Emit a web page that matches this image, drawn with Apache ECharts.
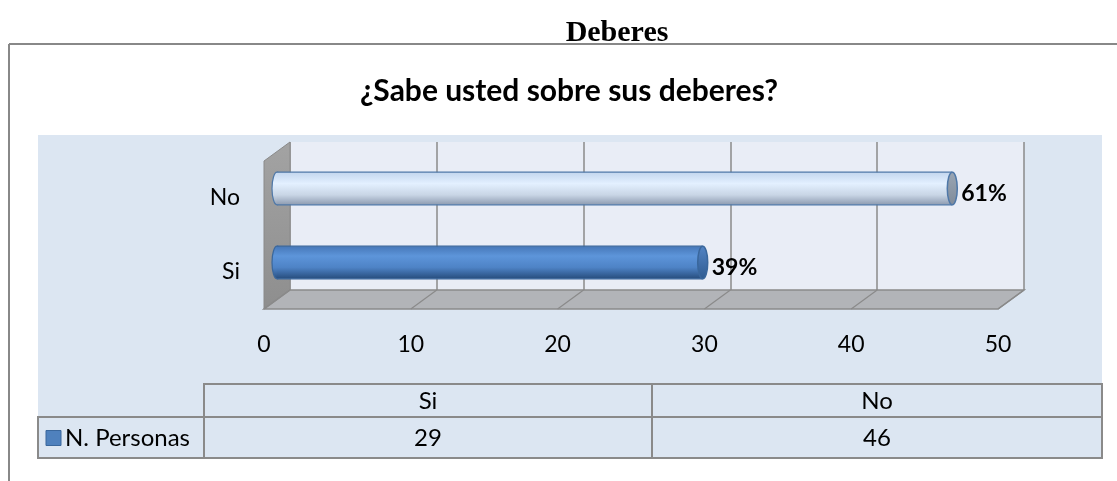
<!DOCTYPE html>
<html>
<head>
<meta charset="utf-8">
<script src="https://cdn.jsdelivr.net/npm/echarts@6/dist/echarts.min.js"></script>
<style>
html, body { margin: 0; padding: 0; background: #fff; }
#main { width: 1117px; height: 481px; }
</style>
</head>
<body>
<div id="main"></div>
<script>
// data
var categories = ['Si', 'No'];
var personas = [29, 46];
var seriesName = 'N. Personas';
var xMin = 0, xMax = 50, xStep = 10;
var pageTitle = 'Deberes';
var chartTitle = '¿Sabe usted sobre sus deberes?';

// layout (back wall of the 3d box + depth offset)
var wall = { left: 290, top: 142, width: 734, height: 148 };
var depth = { dx: -26, dy: 19 };
var font = 'Lato';
var edgeGray = '#8a8a8a';

var total = personas.reduce(function (a, b) { return a + b; }, 0);

var cylStyles = {
    'Si': {
        body: [[0, '#4677b8'], [0.3, '#5d95da'], [0.65, '#4e83c6'], [1, '#274d7d']],
        cap: [[0, '#5384c4'], [1, '#2f5b91']],
        edge: '#3a679c'
    },
    'No': {
        body: [[0, '#c3d6ee'], [0.35, '#e3f0ff'], [0.7, '#c8d5e5'], [1, '#8d9bb0']],
        cap: [[0, '#9aa6b4'], [1, '#7f8b9a']],
        edge: '#4f78a8'
    }
};

function grad(stops) {
    return {
        type: 'linear', x: 0, y: 0, x2: 0, y2: 1,
        colorStops: stops.map(function (s) { return { offset: s[0], color: s[1] }; })
    };
}

function renderBox(params, api) {
    var bl = api.coord([xMin, 0]);
    var br = api.coord([xMax, 0]);
    var tl = api.coord([xMin, 1]);
    var children = [];
    // left wall
    children.push({
        type: 'polygon',
        shape: { points: [[tl[0], tl[1]], [bl[0], bl[1]], [bl[0] + depth.dx, bl[1] + depth.dy], [tl[0] + depth.dx, tl[1] + depth.dy]] },
        style: { fill: grad([[0, '#a3a3a3'], [1, '#8e8e8e']]), stroke: edgeGray, lineWidth: 1 }
    });
    // floor
    children.push({
        type: 'polygon',
        shape: { points: [[bl[0], bl[1]], [br[0], br[1]], [br[0] + depth.dx, br[1] + depth.dy], [bl[0] + depth.dx, bl[1] + depth.dy]] },
        style: { fill: '#b2b4b8', stroke: edgeGray, lineWidth: 1.5 }
    });
    for (var t = xMin; t <= xMax; t += xStep) {
        var p = api.coord([t, 0]);
        children.push({
            type: 'line',
            shape: { x1: p[0], y1: p[1], x2: p[0] + depth.dx, y2: p[1] + depth.dy },
            style: { stroke: edgeGray, lineWidth: 1.2 }
        });
    }
    return { type: 'group', children: children };
}

function renderCylinder(params, api) {
    var v = api.value(0);
    var cat = api.value(1);
    var name = categories[params.dataIndex];
    var st = cylStyles[name];
    var start = api.coord([0, cat]);
    var end = api.coord([v, cat]);
    var h = api.size([0, 1])[1] * 0.44;
    var ry = h / 2, rx = 5;
    var cy = start[1];
    var pct = Math.round(v / total * 100) + '%';
    return {
        type: 'group',
        children: [
            { type: 'ellipse', shape: { cx: start[0], cy: cy, rx: rx, ry: ry }, style: { fill: grad(st.body), stroke: st.edge, lineWidth: 1.2 } },
            { type: 'rect', shape: { x: start[0], y: cy - ry, width: end[0] - start[0], height: h }, style: { fill: grad(st.body) } },
            { type: 'line', shape: { x1: start[0], y1: cy - ry, x2: end[0], y2: cy - ry }, style: { stroke: st.edge, lineWidth: 1.2 } },
            { type: 'line', shape: { x1: start[0], y1: cy + ry, x2: end[0], y2: cy + ry }, style: { stroke: st.edge, lineWidth: 1.2 } },
            { type: 'ellipse', shape: { cx: end[0], cy: cy, rx: rx, ry: ry }, style: { fill: grad(st.cap), stroke: st.edge, lineWidth: 1.5 } },
            { type: 'text', style: { text: pct, x: end[0] + rx + 4, y: cy + 5, verticalAlign: 'middle', font: 'bold 23px ' + font, fill: '#000' } }
        ]
    };
}

// data table under the chart
var tbl = { x0: 38, c1: 204, c2: 652, x3: 1102, y0: 384, y1: 417, y2: 458 };
var cols = [tbl.c1, tbl.c2, tbl.x3];
var tableGraphics = [];
function cell(x, y, w, h) {
    tableGraphics.push({
        type: 'rect', shape: { x: x, y: y, width: w, height: h },
        style: { fill: 'transparent', stroke: edgeGray, lineWidth: 2 }, z: 5
    });
}
function cellText(txt, cx, cy) {
    tableGraphics.push({
        type: 'text', x: cx, y: cy, z: 6,
        style: { text: txt, font: '24px ' + font, fill: '#000', align: 'center', verticalAlign: 'middle' }
    });
}
for (var i = 0; i < categories.length; i++) {
    cell(cols[i], tbl.y0, cols[i + 1] - cols[i], tbl.y1 - tbl.y0);
    cell(cols[i], tbl.y1, cols[i + 1] - cols[i], tbl.y2 - tbl.y1);
    cellText(categories[i], (cols[i] + cols[i + 1]) / 2, (tbl.y0 + tbl.y1) / 2 + 1);
    cellText(String(personas[i]), (cols[i] + cols[i + 1]) / 2, (tbl.y1 + tbl.y2) / 2 + 1);
}
cell(tbl.x0, tbl.y1, tbl.c1 - tbl.x0, tbl.y2 - tbl.y1);
tableGraphics.push({
    type: 'rect', shape: { x: 46, y: (tbl.y1 + tbl.y2) / 2 - 7, width: 15, height: 15 },
    style: { fill: '#4f81bd', stroke: '#3a679c', lineWidth: 1 }, z: 6
});
tableGraphics.push({
    type: 'text', x: 65, y: (tbl.y1 + tbl.y2) / 2 + 1, z: 6,
    style: { text: seriesName, font: '24px ' + font, fill: '#000', align: 'left', verticalAlign: 'middle' }
});

var chart = echarts.init(document.getElementById('main'));
var option = {
    animation: false,
    backgroundColor: '#fff',
    title: [{
        text: pageTitle,
        left: 612, top: 13, textAlign: 'center',
        textStyle: { fontFamily: 'Liberation Serif', fontWeight: 'bold', fontSize: 30, color: '#000' }
    }, {
        text: chartTitle,
        left: 564, top: 71, textAlign: 'center',
        textStyle: { fontFamily: font, fontWeight: 'bold', fontSize: 30, color: '#000' }
    }],
    graphic: [
        { type: 'rect', shape: { x: 38, y: 135, width: 1064, height: 323 }, style: { fill: '#dce6f2' }, z: -10 },
        { type: 'line', shape: { x1: 9, y1: 44, x2: 1117, y2: 44 }, style: { stroke: '#888', lineWidth: 2 }, z: -10 },
        { type: 'line', shape: { x1: 9, y1: 44, x2: 9, y2: 481 }, style: { stroke: '#888', lineWidth: 2 }, z: -10 }
    ].concat(tableGraphics),
    grid: [
        // back wall
        { left: wall.left, top: wall.top, width: wall.width, height: wall.height,
          show: true, backgroundColor: '#e9edf6', borderWidth: 0 },
        // bars at mid depth
        { left: wall.left + depth.dx / 2, top: wall.top + depth.dy / 2, width: wall.width, height: wall.height },
        // front plane: axis labels
        { left: wall.left + depth.dx, top: wall.top + depth.dy, width: wall.width, height: wall.height }
    ],
    xAxis: [
        { gridIndex: 0, type: 'value', min: xMin, max: xMax, interval: xStep,
          axisLine: { show: false }, axisTick: { show: false }, axisLabel: { show: false },
          splitLine: { show: true, lineStyle: { color: edgeGray, width: 1.5 } } },
        { gridIndex: 1, type: 'value', min: xMin, max: xMax, interval: xStep, show: false },
        { gridIndex: 2, type: 'value', min: xMin, max: xMax, interval: xStep,
          axisLine: { show: false }, axisTick: { show: false }, splitLine: { show: false },
          axisLabel: { margin: 24, fontSize: 23, fontFamily: font, color: '#000' } }
    ],
    yAxis: [
        { gridIndex: 0, type: 'value', min: 0, max: 1, show: false },
        { gridIndex: 1, type: 'category', data: categories, show: false },
        { gridIndex: 2, type: 'category', data: categories,
          axisLine: { show: false }, axisTick: { show: false },
          axisLabel: { margin: 24, fontSize: 23, fontFamily: font, color: '#000' } }
    ],
    series: [{
        type: 'custom',
        xAxisIndex: 0, yAxisIndex: 0,
        data: [[0, 0]],
        renderItem: renderBox,
        silent: true,
        z: 1
    }, {
        name: seriesName,
        type: 'custom',
        xAxisIndex: 1, yAxisIndex: 1,
        data: personas.map(function (v, i) { return [v, i]; }),
        encode: { x: 0, y: 1 },
        renderItem: renderCylinder,
        z: 3
    }]
};
chart.setOption(option);
</script>
</body>
</html>
